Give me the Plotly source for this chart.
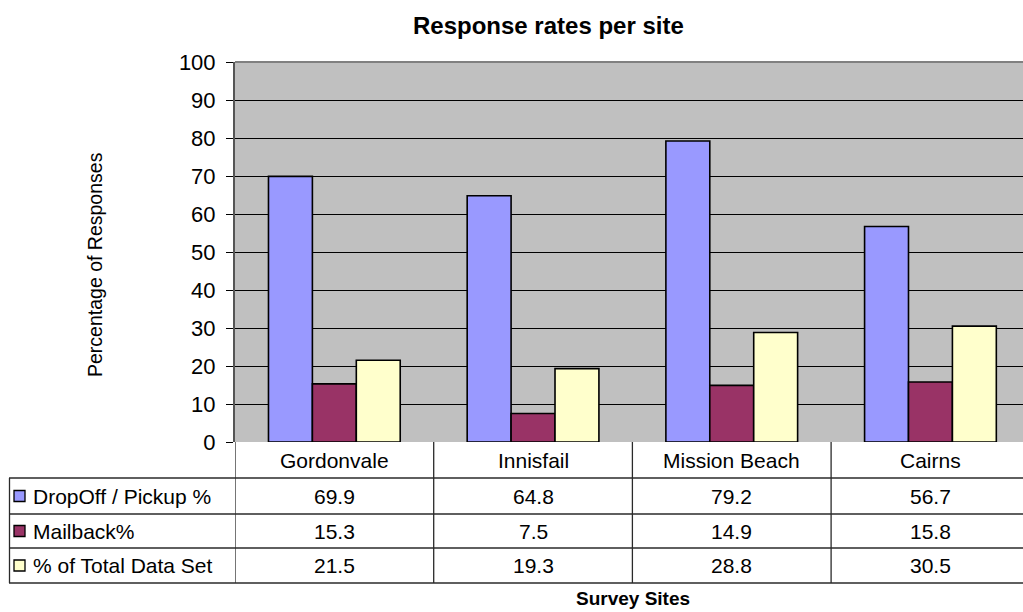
import plotly.graph_objects as go

# Survey response rates by site (percent)
sites = ["Gordonvale", "Innisfail", "Mission Beach", "Cairns"]
series_names = ["DropOff / Pickup %", "Mailback%", "% of Total Data Set"]
dropoff = [69.9, 64.8, 79.2, 56.7]
mailback = [15.3, 7.5, 14.9, 15.8]
total_share = [21.5, 19.3, 28.8, 30.5]
y_ticks = [0, 10, 20, 30, 40, 50, 60, 70, 80, 90, 100]

series_values = [dropoff, mailback, total_share]
colors = ["#9999FF", "#993366", "#FFFFCC"]
FONT = "Liberation Sans, Arial, sans-serif"

# Layout geometry (pixels)
W, H = 1023, 612
PL, PT, PB = 235, 62, 442          # plot left, top, bottom
PH = PB - PT
CAT_W = 198.7                       # width of one category slot
x_max = -0.5 + (W - PL) / CAT_W

def py(p):
    """pixel row -> paper y"""
    return (PB - p) / PH

def px(p):
    """pixel column -> paper x"""
    return (p - PL) / (W - PL)

fig = go.Figure()
for name, vals, col in zip(series_names, series_values, colors):
    fig.add_trace(go.Bar(
        x=list(range(len(sites))), y=vals, name=name,
        marker=dict(color=col, line=dict(color="black", width=1.6)),
        showlegend=False, hoverinfo="y",
    ))

shapes = []
annotations = []
line_col = "#2a2a2a"
TABLE_SIZE = 21

# plot area border (top)
shapes.append(dict(type="line", xref="paper", yref="paper", x0=0, x1=1, y0=1, y1=1,
                   line=dict(color="#808080", width=2)))

# data table rows
row_tops = [PB, 478, 514, 548, 583]
for yy in row_tops[1:]:
    shapes.append(dict(type="line", xref="paper", yref="paper",
                       x0=px(9), x1=1.0, y0=py(yy), y1=py(yy),
                       line=dict(color=line_col, width=1.3)))
# left border of legend column
shapes.append(dict(type="line", xref="paper", yref="paper",
                   x0=px(9.5), x1=px(9.5), y0=py(478), y1=py(583),
                   line=dict(color=line_col, width=1.3)))
# column dividers at category edges
for i in range(len(sites) + 1):
    shapes.append(dict(type="line", xref="x", yref="paper",
                       x0=i - 0.5, x1=i - 0.5, y0=py(PB), y1=py(583),
                       line=dict(color=line_col, width=1.3)))

# category header row
for i, s in enumerate(sites):
    annotations.append(dict(x=i, y=py((row_tops[0] + row_tops[1]) / 2), xref="x", yref="paper",
                            text=s, showarrow=False, xanchor="center", yanchor="middle",
                            font=dict(family=FONT, size=TABLE_SIZE, color="black")))

# value rows with legend keys
for r, (name, vals, col) in enumerate(zip(series_names, series_values, colors)):
    yc = (row_tops[r + 1] + row_tops[r + 2]) / 2
    shapes.append(dict(type="rect", xref="paper", yref="paper",
                       x0=px(14), x1=px(25), y0=py(yc - 5.5), y1=py(yc + 5.5),
                       fillcolor=col, line=dict(color="black", width=1.3)))
    annotations.append(dict(x=px(31), y=py(yc), xref="paper", yref="paper",
                            text=name, showarrow=False, xanchor="left", yanchor="middle",
                            font=dict(family=FONT, size=TABLE_SIZE, color="black")))
    for i, v in enumerate(vals):
        annotations.append(dict(x=i, y=py(yc), xref="x", yref="paper",
                                text=f"{v:.1f}", showarrow=False,
                                xanchor="center", yanchor="middle",
                                font=dict(family=FONT, size=TABLE_SIZE, color="black")))

# titles
annotations.append(dict(x=px(548), y=py(25), xref="paper", yref="paper",
                        text="<b>Response rates per site</b>", showarrow=False,
                        xanchor="center", yanchor="middle",
                        font=dict(family=FONT, size=24, color="black")))
annotations.append(dict(x=px(95), y=py(265), xref="paper", yref="paper",
                        text="Percentage of Responses", showarrow=False, textangle=-90,
                        xanchor="center", yanchor="middle",
                        font=dict(family=FONT, size=19.5, color="black")))
annotations.append(dict(x=px(633), y=py(598), xref="paper", yref="paper",
                        text="<b>Survey Sites</b>", showarrow=False,
                        xanchor="center", yanchor="middle",
                        font=dict(family=FONT, size=19, color="black")))

fig.update_layout(
    width=W, height=H,
    margin=dict(l=PL, r=0, t=PT, b=H - PB, pad=0),
    paper_bgcolor="white", plot_bgcolor="#C0C0C0",
    barmode="group", bargap=0.337, bargroupgap=0,
    shapes=shapes, annotations=annotations,
    font=dict(family=FONT, color="black"),
    xaxis=dict(range=[-0.5, x_max], showticklabels=False, showgrid=False,
               zeroline=False, showline=False, ticks=""),
    yaxis=dict(range=[0, 100], tickvals=y_ticks, showgrid=True, gridcolor="black",
               gridwidth=1, zeroline=False, showline=True, linecolor="#555555",
               linewidth=2, ticks="outside", ticklen=7, tickcolor="black",
               ticklabelstandoff=6,
               tickfont=dict(family=FONT, size=22, color="black")),
)

fig.write_html("out.html")
